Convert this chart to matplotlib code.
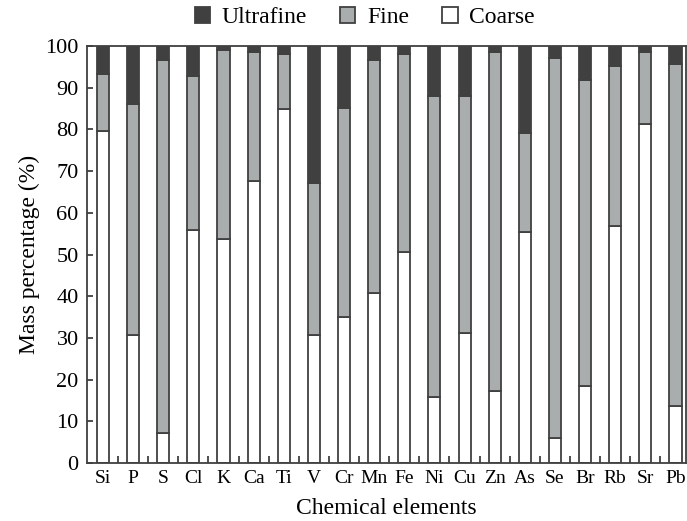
import matplotlib
matplotlib.use("Agg")
import matplotlib.pyplot as plt
import numpy as np
from matplotlib.ticker import FixedLocator

elements = ["Si", "P", "S", "Cl", "K", "Ca", "Ti", "V", "Cr", "Mn",
            "Fe", "Ni", "Cu", "Zn", "As", "Se", "Br", "Rb", "Sr", "Pb"]
coarse = [79.6, 30.8, 7.2, 55.8, 53.8, 67.6, 84.9, 30.8, 35.1, 40.8,
          50.5, 15.8, 31.2, 17.2, 55.3, 5.9, 18.5, 56.8, 81.2, 13.6]
coarse_plus_fine = [93.3, 86.2, 96.6, 92.9, 99.1, 98.6, 98.1, 67.2, 85.2, 96.6,
                    98.1, 88.0, 88.0, 98.5, 79.2, 97.1, 91.8, 95.1, 98.5, 95.7]
fine = [cf - c for cf, c in zip(coarse_plus_fine, coarse)]
ultrafine = [100 - cf for cf in coarse_plus_fine]

plt.rcParams['font.family'] = ['Liberation Serif', 'DejaVu Serif']

fig = plt.figure(figsize=(6.87, 5.21), dpi=100)
ax = fig.add_axes([0.1266, 0.1113, 0.872, 0.8004])

x = np.arange(len(elements))
edge = '#404040'
w = 0.4
ax.bar(x, coarse, w, color='white', edgecolor=edge, linewidth=1.3, label='Coarse')
ax.bar(x, fine, w, bottom=coarse, color='#a9adad', edgecolor=edge, linewidth=1.3, label='Fine')
ax.bar(x, ultrafine, w, bottom=coarse_plus_fine, color='#404040', edgecolor=edge, linewidth=1.3, label='Ultrafine')

ax.set_xlim(-0.53, 19.35)
ax.set_ylim(0, 100)
ax.set_yticks(np.arange(0, 101, 10))
ax.set_xticks(x)
ax.set_xticklabels(elements)
ax.xaxis.set_minor_locator(FixedLocator(np.arange(0.5, 19, 1.0)))
ax.tick_params(axis='x', which='major', length=0, labelsize=14, pad=5)
ax.tick_params(axis='x', which='minor', direction='in', length=5, width=1.3, color=edge)
ax.tick_params(axis='y', direction='in', length=4, width=1.3, color=edge, labelsize=16, pad=6)
for s in ax.spines.values():
    s.set_linewidth(1.3)
    s.set_color(edge)

ax.set_ylabel('Mass percentage (%)', fontsize=17, labelpad=4)
ax.set_xlabel('Chemical elements', fontsize=17, labelpad=8)

handles, labels = ax.get_legend_handles_labels()
order = [2, 1, 0]
fig.legend([handles[i] for i in order], [labels[i] for i in order], loc='center',
           bbox_to_anchor=(0.531, 0.966), ncol=3, frameon=False, fontsize=17,
           handlelength=0.65, handleheight=0.65, handletextpad=0.5, columnspacing=1.4,
           borderaxespad=0.0, borderpad=0.0)

fig.savefig('out.png', dpi=100)
